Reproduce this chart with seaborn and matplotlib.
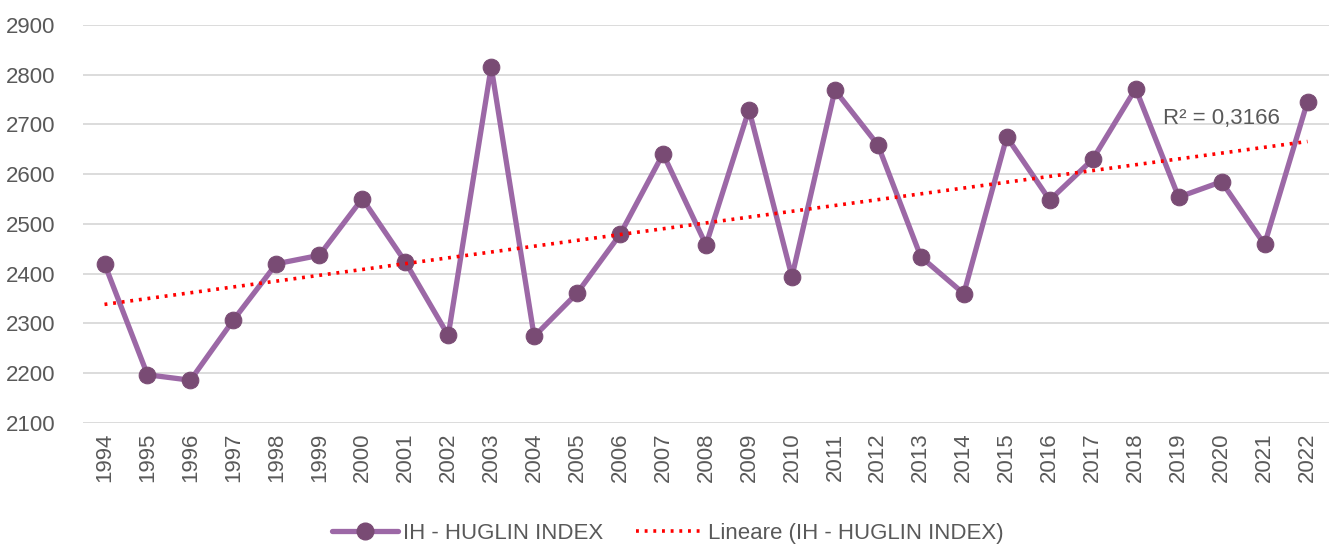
import numpy as np
import pandas as pd
import seaborn as sns
import matplotlib.pyplot as plt
from matplotlib.lines import Line2D

years = list(range(1994, 2023))
huglin = [2420, 2197, 2186, 2307, 2420, 2437, 2551, 2424, 2276, 2816,
          2274, 2361, 2479, 2641, 2458, 2730, 2394, 2769, 2659, 2434,
          2360, 2675, 2548, 2630, 2772, 2554, 2585, 2459, 2746]
yticks = [2100, 2200, 2300, 2400, 2500, 2600, 2700, 2800, 2900]
r2_label = 'R² = 0,3166'

df = pd.DataFrame({'pos': np.arange(len(years)), 'year': years, 'ih': huglin})

sns.set_style('white')
plt.rcParams['font.family'] = ['Liberation Sans', 'DejaVu Sans']
txt = '#595959'
line_col = '#9C68A6'
mark_col = '#794B74'

fig = plt.figure(figsize=(13.35, 5.49), dpi=100)
ax = fig.add_axes([0.0622, 0.2295, 0.9333, 0.725])

sns.lineplot(data=df, x='pos', y='ih', ax=ax, color=line_col, linewidth=3.8,
             marker='o', markersize=12, markerfacecolor=mark_col,
             markeredgecolor=mark_col, zorder=3)
sns.regplot(data=df, x='pos', y='ih', ax=ax, scatter=False, ci=None,
            line_kws={'color': '#FF0000', 'linestyle': (0, (0.8, 1.6)),
                      'linewidth': 2.6, 'zorder': 4})

ax.set_xlim(-0.5, len(years) - 0.5)
ax.set_ylim(2100, 2900)
ax.set_yticks(yticks)
ax.set_xticks(df['pos'])
ax.set_xticklabels(years, rotation=90)
ax.yaxis.grid(True, color='#D9D9D9', linewidth=1.3)
ax.xaxis.grid(False)
for s in ax.spines.values():
    s.set_visible(False)
ax.tick_params(axis='y', length=0, pad=20, labelsize=16, labelcolor=txt)
ax.tick_params(axis='x', length=0, pad=7, labelsize=16, labelcolor=txt)
ax.set_xlabel('')
ax.set_ylabel('')

ax.text(26.0, 2712, r2_label, fontsize=16, color=txt, va='center', ha='center')

handles = [
    Line2D([0], [0], color=line_col, linewidth=3.8, marker='o', markersize=12,
           markerfacecolor=mark_col, markeredgecolor=mark_col),
    Line2D([0], [0], color='#FF0000', linewidth=2.6, linestyle=(0, (0.8, 1.6))),
]
fig.legend(handles, ['IH - HUGLIN INDEX', 'Lineare (IH - HUGLIN INDEX)'],
           loc='center', bbox_to_anchor=(0.5, 0.029), ncol=2, frameon=False,
           fontsize=16, labelcolor=txt, handlelength=3, handletextpad=0.2,
           columnspacing=1.5)

fig.savefig('out.png', dpi=100)
